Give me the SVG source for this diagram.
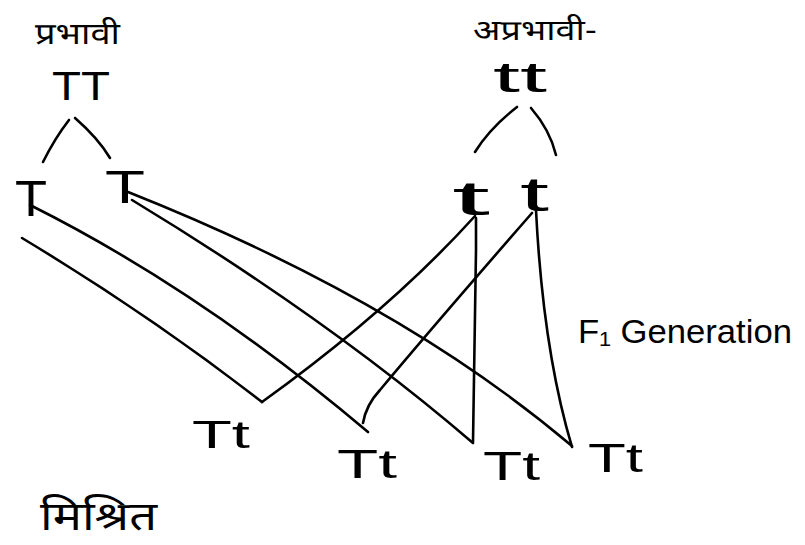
<svg xmlns="http://www.w3.org/2000/svg" width="805" height="545" viewBox="0 0 805 545">
<style>
.ln{fill:none;stroke:#000;stroke-width:2.6;stroke-linecap:round;stroke-linejoin:round}
.lt{font-family:"Liberation Sans","DejaVu Sans",sans-serif;fill:#000}
.dv{font-family:"Noto Sans Devanagari","Lohit Devanagari","Noto Sans","FreeSans",sans-serif;fill:#000}
</style>
<rect width="805" height="545" fill="#fff"/>
<g id="connectors">
<path class="ln" d="M43,162 Q55,138 69,120"/>
<path class="ln" d="M75,118 Q98,138 110,158"/>
<path class="ln" d="M475,152 Q490,128 517,107"/>
<path class="ln" d="M531,108 Q550,130 556,155"/>
<path class="ln" d="M30,205 Q200,290 368,432"/>
<path class="ln" d="M22,238 Q150,315 262,402"/>
<path class="ln" d="M128,192 Q400,300 572,446"/>
<path class="ln" d="M132,200 Q330,320 473,443"/>
<path class="ln" d="M262,402 Q390,310 475,216"/>
<path class="ln" d="M363,423 Q366,405 380,390 Q430,330 532,213"/>
<path class="ln" d="M476,218 L476,250 L473,442"/>
<path class="ln" d="M536,210 Q543,350 572,447"/>
</g>
<g id="dominant-label"><text class="dv" x="35" y="44" font-size="30" textLength="85" lengthAdjust="spacingAndGlyphs">प्रभावी</text></g>
<g id="recessive-label"><text class="dv" x="473" y="40" font-size="28" textLength="124" lengthAdjust="spacingAndGlyphs">अप्रभावी-</text></g>
<g id="TT"><text class="lt" x="52" y="100" font-size="40" textLength="58" lengthAdjust="spacingAndGlyphs">TT</text></g>
<g id="tt"><text class="lt" x="493" y="92" font-size="42" textLength="54" lengthAdjust="spacingAndGlyphs">tt</text></g>
<g id="T1"><text class="lt" x="15" y="216" font-size="50" textLength="32" lengthAdjust="spacingAndGlyphs">T</text></g>
<g id="T2"><text class="lt" x="105" y="203" font-size="46" textLength="40" lengthAdjust="spacingAndGlyphs">T</text></g>
<g id="t1"><text class="lt" x="452" y="215" font-size="48" textLength="38" lengthAdjust="spacingAndGlyphs">t</text></g>
<g id="t2"><text class="lt" x="520" y="211" font-size="48" textLength="29" lengthAdjust="spacingAndGlyphs">t</text></g>
<g id="f1-label"><text class="lt" x="578" y="343" font-size="34" textLength="214" lengthAdjust="spacingAndGlyphs">F₁ Generation</text></g>
<g id="Tt1"><text class="lt" x="192" y="448" font-size="38" textLength="58" lengthAdjust="spacingAndGlyphs">Tt</text></g>
<g id="Tt2"><text class="lt" x="337" y="478" font-size="40" textLength="60" lengthAdjust="spacingAndGlyphs">Tt</text></g>
<g id="Tt3"><text class="lt" x="483" y="480" font-size="40" textLength="57" lengthAdjust="spacingAndGlyphs">Tt</text></g>
<g id="Tt4"><text class="lt" x="588" y="472" font-size="40" textLength="55" lengthAdjust="spacingAndGlyphs">Tt</text></g>
<g id="mixed-label"><text class="dv" x="40" y="530" font-size="40" textLength="117" lengthAdjust="spacingAndGlyphs">मिश्रित</text></g>
</svg>
